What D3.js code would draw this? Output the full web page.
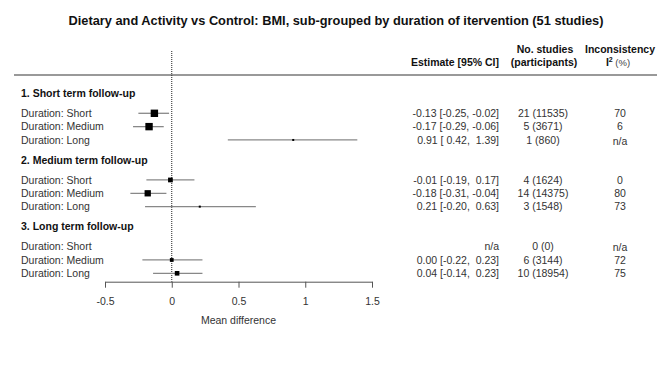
<!DOCTYPE html>
<html>
<head>
<meta charset="utf-8">
<script src="https://cdn.jsdelivr.net/npm/d3@7"></script>
<style>
  body { margin: 0; background: #fff; }
  svg text { font-family: "Liberation Sans", Arial, sans-serif; white-space: pre; }
</style>
</head>
<body>
<svg id="chart" width="672" height="373"></svg>
<script>
const title = "Dietary and Activity vs Control: BMI, sub-grouped by duration of itervention (51 studies)";
const groups = ["1. Short term follow-up", "2. Medium term follow-up", "3. Long term follow-up"];
const subgroups = ["Duration: Short", "Duration: Medium", "Duration: Long"];

// per group: [short, medium, long]
const estimate = [[-0.13, -0.17, 0.91], [-0.01, -0.18, 0.21], [null, 0.00, 0.04]];
const lower    = [[-0.25, -0.29, 0.42], [-0.19, -0.31, -0.20], [null, -0.22, -0.14]];
const upper    = [[-0.02, -0.06, 1.39], [0.17, -0.04, 0.63], [null, 0.23, 0.23]];
const studies  = [[21, 5, 1], [4, 14, 3], [0, 6, 10]];
const participants = [[11535, 3671, 860], [1624, 14375, 1548], [0, 3144, 18954]];
const i2 = [["70", "6", "n/a"], ["0", "80", "73"], ["n/a", "72", "75"]];

const xTicks = [-0.5, 0, 0.5, 1, 1.5];

const svg = d3.select("#chart");
const fontSize = 10.5;

// rows: group g, subgroup j -> index 5g + j ; header at 5g - 1.5
const rows = [];
groups.forEach((g, gi) => {
  subgroups.forEach((s, j) => {
    rows.push({
      group: gi, label: s, idx: gi * 5 + j,
      est: estimate[gi][j], lo: lower[gi][j], hi: upper[gi][j],
      n: studies[gi][j], p: participants[gi][j], i2: i2[gi][j]
    });
  });
});

const x = d3.scaleLinear().domain([-0.5, 1.5]).range([105, 372]);
const y = d3.scaleLinear().domain([0, 12]).range([113.3, 273.3]);
const axisY = 281.7;

// title
svg.append("text")
  .attr("x", 336).attr("y", 25)
  .attr("text-anchor", "middle")
  .attr("font-size", 12.8).attr("font-weight", "bold")
  .attr("fill", "#111")
  .text(title);

// column headers
const hdr = svg.append("g").attr("font-size", fontSize).attr("font-weight", "bold").attr("fill", "#111");
hdr.append("text").attr("x", 499).attr("y", 65.5).attr("text-anchor", "end").text("Estimate [95% CI]");
hdr.append("text").attr("x", 545).attr("y", 52.5).attr("text-anchor", "middle").text("No. studies");
hdr.append("text").attr("x", 544).attr("y", 65.5).attr("text-anchor", "middle").text("(participants)");
hdr.append("text").attr("x", 620).attr("y", 52.5).attr("text-anchor", "middle").text("Inconsistency");
const i2h = hdr.append("text").attr("x", 618).attr("y", 65.5).attr("text-anchor", "middle");
i2h.append("tspan").text("I");
i2h.append("tspan").attr("font-size", 7).attr("dy", -4).text("2");
i2h.append("tspan").attr("dy", 4).attr("font-weight", "normal").attr("font-size", 9.5).attr("fill", "#444").text(" (%)");

// header rule
svg.append("line")
  .attr("x1", 14).attr("x2", 657)
  .attr("y1", 75).attr("y2", 75)
  .attr("stroke", "#999").attr("stroke-width", 2);

// zero line
svg.append("line")
  .attr("x1", x(0)).attr("x2", x(0))
  .attr("y1", 51).attr("y2", axisY)
  .attr("stroke", "#222").attr("stroke-width", 1)
  .attr("stroke-dasharray", "1,1");

// group headings
svg.append("g").selectAll("text")
  .data(groups)
  .join("text")
  .attr("x", 21)
  .attr("y", (d, i) => y(i * 5 - 1.5) + 3.8)
  .attr("font-size", fontSize).attr("font-weight", "bold").attr("fill", "#111")
  .text(d => d);

// row labels
svg.append("g").selectAll("text")
  .data(rows)
  .join("text")
  .attr("x", 21)
  .attr("y", d => y(d.idx) + 3.8)
  .attr("font-size", fontSize).attr("fill", "#333")
  .text(d => d.label);

// CI lines and boxes
const withEst = rows.filter(d => d.est !== null);
svg.append("g").selectAll("line")
  .data(withEst)
  .join("line")
  .attr("x1", d => x(d.lo)).attr("x2", d => x(d.hi))
  .attr("y1", d => y(d.idx)).attr("y2", d => y(d.idx))
  .attr("stroke", "#888").attr("stroke-width", 1.3);

const boxSize = d => Math.max(2, 1.7 / (d.hi - d.lo));
svg.append("g").selectAll("rect")
  .data(withEst)
  .join("rect")
  .attr("x", d => x(d.est) - boxSize(d) / 2)
  .attr("y", d => y(d.idx) - boxSize(d) / 2)
  .attr("width", boxSize).attr("height", boxSize)
  .attr("fill", "#000");

// right-hand columns
const f2 = v => v.toFixed(2).padStart(5, " ");
const cols = svg.append("g").attr("font-size", fontSize).attr("fill", "#333");
cols.selectAll(".est")
  .data(rows)
  .join("text")
  .attr("class", "est")
  .attr("x", 499).attr("y", d => y(d.idx) + 3.8)
  .attr("text-anchor", "end")
  .text(d => d.est === null ? "n/a" : `${f2(d.est)} [${f2(d.lo)}, ${f2(d.hi)}]`);
cols.selectAll(".n")
  .data(rows)
  .join("text")
  .attr("class", "n")
  .attr("x", 543).attr("y", d => y(d.idx) + 3.8)
  .attr("text-anchor", "middle")
  .text(d => `${d.n} (${d.p})`);
cols.selectAll(".i2")
  .data(rows)
  .join("text")
  .attr("class", "i2")
  .attr("x", 620).attr("y", d => y(d.idx) + 3.8 + (d.i2 === "n/a" ? 1 : 0))
  .attr("text-anchor", "middle")
  .text(d => d.i2);

// x axis
const axis = svg.append("g")
  .attr("transform", `translate(0,${axisY})`)
  .call(d3.axisBottom(x)
    .tickValues(xTicks)
    .tickFormat(d => String(d))
    .tickSize(6)
    .tickSizeOuter(0)
    .tickPadding(10));
axis.select(".domain").attr("stroke", "#555");
axis.selectAll(".tick line").attr("stroke", "#555");
axis.selectAll(".tick text")
  .attr("font-family", "Liberation Sans, Arial, sans-serif")
  .attr("font-size", fontSize).attr("fill", "#333");

svg.append("text")
  .attr("x", x(0.5)).attr("y", 324)
  .attr("text-anchor", "middle")
  .attr("font-size", fontSize).attr("fill", "#333")
  .text("Mean difference");
</script>
</body>
</html>
